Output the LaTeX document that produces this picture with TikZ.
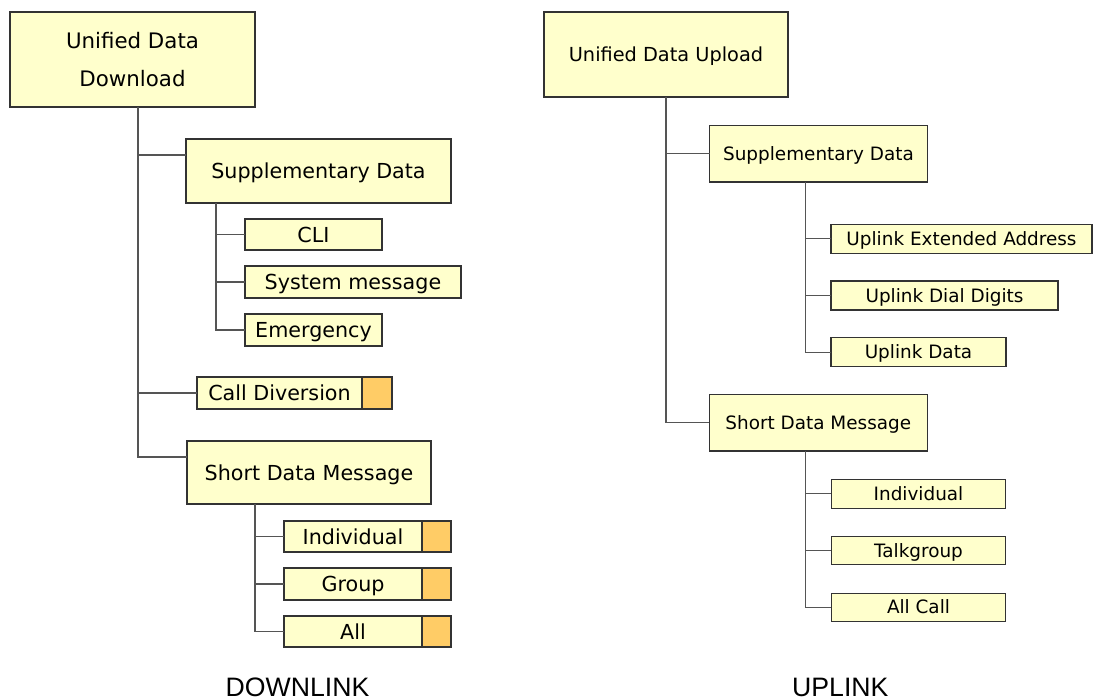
\documentclass[tikz,border=0pt]{standalone}
\usepackage{fontspec}
\setmainfont{DejaVu Sans}
\newfontfamily\labfont{Liberation Sans}
\definecolor{ylw}{HTML}{FFFFCC}
\definecolor{org}{HTML}{FFCC66}
\definecolor{bline}{HTML}{333333}
\definecolor{cline}{HTML}{555555}
\tikzset{
 bx/.style={draw=bline, fill=ylw, line width=0.8pt, inner sep=0pt, outer sep=0pt, align=center},
 ob/.style={draw=bline, fill=org, line width=0.8pt, inner sep=0pt, outer sep=0pt},
 conn/.style={draw=cline, line width=1pt},
 lf/.style={font=\fontsize{15.5}{18}\selectfont, text height=11.3pt, text depth=0pt},
 rf/.style={font=\fontsize{13.8}{16}\selectfont, text height=10pt, text depth=0pt},
 low/.style={text depth=-4.5pt},
 lab/.style={font=\labfont\fontsize{20}{24}\selectfont, inner sep=0pt, text height=14.3pt, text depth=0pt}
}
\newcommand{\mkbox}[7]{\node[#2, minimum width={(#5-#3)*0.75pt}, minimum height={(#6-#4)*0.75pt}] (#1) at ({(#3+#5)/2},{(#4+#6)/2}) {#7};}
\begin{document}
\begin{tikzpicture}[x=0.75pt,y=-0.75pt]
\useasboundingbox (0,0) rectangle (1093,700);
% ---------- DOWNLINK ----------
\mkbox{udd}{bx,font=\fontsize{16}{28}\selectfont}{10}{12}{255}{107}{Unified Data\\Download}
\mkbox{lsup}{bx,lf,text depth=-2pt}{186}{139}{451}{203}{Supplementary Data}
\mkbox{cli}{bx,lf,low}{245}{219}{382}{250}{CLI}
\mkbox{sysm}{bx,lf,low}{245}{266}{461}{298}{System message}
\mkbox{emer}{bx,lf,low}{245}{314}{382}{346}{Emergency}
\mkbox{cdiv}{bx,lf,low}{197}{377}{362}{409}{Call Diversion}
\mkbox{cdivo}{ob}{362}{377}{392}{409}{}
\mkbox{lsdm}{bx,lf,text depth=-2pt}{187}{441}{431}{504}{Short Data Message}
\mkbox{lind}{bx,lf,low}{284}{521}{422}{552}{Individual}
\mkbox{lindo}{ob}{422}{521}{451}{552}{}
\mkbox{lgrp}{bx,lf,low}{284}{568}{422}{600}{Group}
\mkbox{lgrpo}{ob}{422}{568}{451}{600}{}
\mkbox{lall}{bx,lf,low}{284}{616}{422}{647}{All}
\mkbox{lallo}{ob}{422}{616}{451}{647}{}
\coordinate (ta) at (138,107);
\coordinate (tb) at (216,203);
\coordinate (tc) at (255,504);
\draw[conn] (ta) |- ([yshift=12pt]lsup.west);
\draw[conn] (ta) |- (cdiv.west);
\draw[conn] (ta) |- ([yshift=11.6pt]lsdm.west);
\draw[conn] (tb) |- (cli.west);
\draw[conn] (tb) |- (sysm.west);
\draw[conn] (tb) |- (emer.west);
\draw[conn] (tc) |- (lind.west);
\draw[conn] (tc) |- (lgrp.west);
\draw[conn] (tc) |- (lall.west);
% ---------- UPLINK ----------
\mkbox{udu}{bx,font=\fontsize{14.5}{17}\selectfont, text height=10.6pt, text depth=-1.5pt}{544}{12}{788}{97}{Unified Data Upload}
\mkbox{rsup}{bx,rf}{709.5}{125.3}{927.5}{182}{Supplementary Data}
\mkbox{uea}{bx,rf,text depth=-3.5pt}{831}{224.3}{1092}{253.3}{Uplink Extended Address}
\mkbox{udig}{bx,rf,text depth=-3.5pt}{831}{281}{1058}{310}{Uplink Dial Digits}
\mkbox{udat}{bx,rf,text depth=-3.5pt}{831}{337.7}{1006}{366.7}{Uplink Data}
\mkbox{rsdm}{bx,rf}{709.3}{394.3}{927.3}{451}{Short Data Message}
\mkbox{rind}{bx,rf,text depth=-3.5pt}{831.3}{479.3}{1005.7}{508.3}{Individual}
\mkbox{rtg}{bx,rf,text depth=-3.5pt}{831.3}{536.3}{1005.7}{564.7}{Talkgroup}
\mkbox{rall}{bx,rf,text depth=-3.5pt}{831.3}{593.3}{1005.7}{621.3}{All Call}
\coordinate (td) at (666,97);
\coordinate (te) at (805.4,182);
\coordinate (tf) at (805.4,451);
\draw[conn] (td) |- (rsup.west);
\draw[conn] (td) |- (rsdm.west);
\draw[conn] (te) |- (uea.west);
\draw[conn] (te) |- (udig.west);
\draw[conn] (te) |- (udat.west);
\draw[conn] (tf) |- (rind.west);
\draw[conn] (tf) |- (rtg.west);
\draw[conn] (tf) |- (rall.west);
% ---------- labels ----------
\node[lab] (dl) at (297.5,686.5) {DOWNLINK};
\node[lab] (ul) at (840.3,686.5) {UPLINK};
\end{tikzpicture}
\end{document}
